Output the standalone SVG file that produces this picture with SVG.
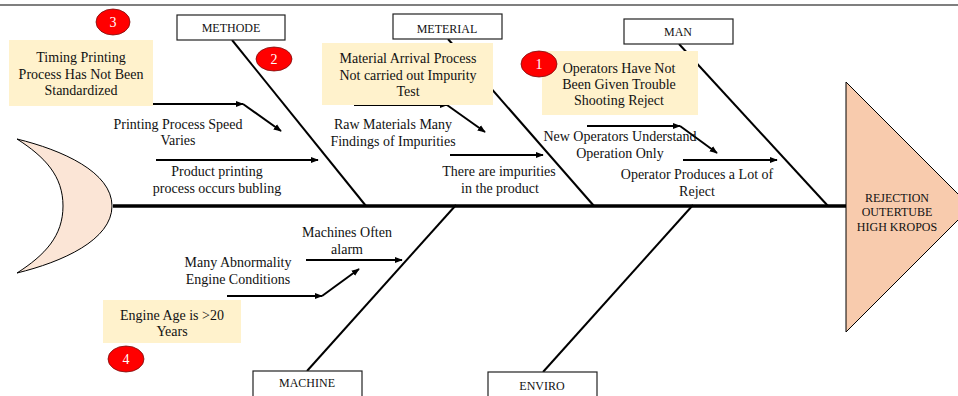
<svg xmlns="http://www.w3.org/2000/svg" width="958" height="396" viewBox="0 0 958 396">
<defs>
<marker id="ah" viewBox="0 0 10 10" refX="9" refY="5" markerWidth="4" markerHeight="4" orient="auto" markerUnits="strokeWidth">
<path d="M0,1 L10,5 L0,9 Z" fill="#000"/>
</marker>
<style>
.t{font-family:"Liberation Serif","Times New Roman",serif;font-size:14px;fill:#111;text-anchor:middle}
.bl{font-family:"Liberation Serif","Times New Roman",serif;font-size:12px;fill:#111;text-anchor:middle}
.box{fill:#fff;stroke:#222;stroke-width:1.2}
.note{fill:#FFF2CC}
.badge{fill:#FF0000;stroke:#7a1010;stroke-width:0.8}
.bt{font-family:"Liberation Serif","Times New Roman",serif;font-size:14px;fill:#fff;text-anchor:middle}
.bone{stroke:#000;stroke-width:2;fill:none}
.arr{stroke:#000;stroke-width:2;fill:none;marker-end:url(#ah)}
</style>
</defs>
<rect width="958" height="396" fill="#fff"/>
<line x1="0" y1="5" x2="958" y2="5" stroke="#000" stroke-width="1.2"/>

<g id="connectors">
<line class="bone" x1="113" y1="206" x2="847" y2="206" style="stroke-width:3.5"/>
<line class="bone" x1="232" y1="40" x2="366" y2="206"/>
<line class="bone" x1="448" y1="39" x2="594" y2="206"/>
<line class="bone" x1="679" y1="44" x2="828" y2="206"/>
<line class="bone" x1="307" y1="371" x2="456" y2="205"/>
<line class="bone" x1="543" y1="372" x2="693" y2="205"/>
<line class="arr" x1="150" y1="104" x2="243" y2="104"/>
<line class="arr" x1="243" y1="104" x2="281" y2="131"/>
<line class="arr" x1="156" y1="160" x2="318" y2="160"/>
<line class="arr" x1="354" y1="105" x2="447" y2="105"/>
<line class="arr" x1="447" y1="105" x2="485" y2="132"/>
<line class="arr" x1="450" y1="155" x2="543" y2="155"/>
<line class="arr" x1="587" y1="126" x2="680" y2="126"/>
<line class="arr" x1="680" y1="126" x2="717" y2="153"/>
<line class="arr" x1="683" y1="160" x2="777" y2="160"/>
<line class="arr" x1="306" y1="260" x2="402" y2="260"/>
<line class="arr" x1="227" y1="296" x2="322" y2="296"/>
<line class="arr" x1="322" y1="296" x2="359" y2="269"/>
</g>

<g id="tail">
<path d="M17,139 C62,150 112,172 112,206 C112,240 62,262 17,273 C45,255 63,236 63,206 C63,176 45,157 17,139 Z" fill="#FBE5D6" stroke="#000" stroke-width="1"/>
</g>

<g id="head">
<polygon points="846,82 971,207 846,332" fill="#F8CBAD" stroke="#000" stroke-width="1"/>
<text class="bl" x="897" y="202">REJECTION</text>
<text class="bl" x="897" y="216">OUTERTUBE</text>
<text class="bl" x="897" y="231">HIGH KROPOS</text>
</g>

<g id="methode">
<rect class="box" x="177" y="15" width="108" height="25"/>
<text class="bl" x="231" y="32">METHODE</text>
</g>
<g id="meterial">
<rect class="box" x="393" y="14" width="109" height="25"/>
<text class="bl" x="447" y="33">METERIAL</text>
</g>
<g id="man">
<rect class="box" x="624" y="19" width="109" height="25"/>
<text class="bl" x="678" y="36">MAN</text>
</g>
<g id="machine">
<rect class="box" x="253" y="371" width="109" height="30"/>
<text class="bl" x="307" y="387">MACHINE</text>
</g>
<g id="enviro">
<rect class="box" x="488" y="372" width="109" height="30"/>
<text class="bl" x="542" y="390">ENVIRO</text>
</g>

<g id="cause-timing">
<rect class="note" x="9" y="40" width="144" height="66"/>
<text class="t" x="81" y="62">Timing Printing</text>
<text class="t" x="81" y="79">Process Has Not Been</text>
<text class="t" x="81" y="95">Standardized</text>
</g>
<g id="badge-3">
<ellipse class="badge" cx="113" cy="22" rx="17" ry="13"/>
<text class="bt" x="113" y="27">3</text>
</g>
<g id="badge-2">
<ellipse class="badge" cx="274" cy="59" rx="18" ry="12"/>
<text class="bt" x="274" y="64">2</text>
</g>
<g id="cause-speed">
<text class="t" x="178" y="129">Printing Process Speed</text>
<text class="t" x="178" y="145">Varies</text>
</g>
<g id="cause-bubling">
<text class="t" x="217" y="176">Product printing</text>
<text class="t" x="217" y="193">process occurs bubling</text>
</g>

<g id="cause-arrival">
<rect class="note" x="322" y="43" width="171" height="62"/>
<text class="t" x="408" y="63">Material Arrival Process</text>
<text class="t" x="408" y="80">Not carried out Impurity</text>
<text class="t" x="408" y="96">Test</text>
</g>
<g id="cause-raw">
<text class="t" x="393" y="129">Raw Materials Many</text>
<text class="t" x="393" y="146">Findings of Impurities</text>
</g>
<g id="cause-impurities">
<text class="t" x="499" y="176">There are impurities</text>
<text class="t" x="500" y="193">in the product</text>
</g>

<g id="cause-operators">
<rect class="note" x="542" y="51" width="156" height="64"/>
<text class="t" x="619" y="73">Operators Have Not</text>
<text class="t" x="619" y="89">Been Given Trouble</text>
<text class="t" x="619" y="105">Shooting Reject</text>
</g>
<g id="badge-1">
<ellipse class="badge" cx="539" cy="64" rx="18" ry="13"/>
<text class="bt" x="539" y="69">1</text>
</g>
<g id="cause-new-operators">
<text class="t" x="620" y="141">New Operators Understand</text>
<text class="t" x="620" y="158">Operation Only</text>
</g>
<g id="cause-reject">
<text class="t" x="697" y="179">Operator Produces a Lot of</text>
<text class="t" x="697" y="196">Reject</text>
</g>

<g id="cause-alarm">
<text class="t" x="347" y="237">Machines Often</text>
<text class="t" x="347" y="254">alarm</text>
</g>
<g id="cause-abnormality">
<text class="t" x="238" y="267">Many Abnormality</text>
<text class="t" x="238" y="284">Engine Conditions</text>
</g>
<g id="cause-engine-age">
<rect class="note" x="103" y="300" width="138" height="43"/>
<text class="t" x="172" y="320">Engine Age is &gt;20</text>
<text class="t" x="172" y="336">Years</text>
</g>
<g id="badge-4">
<ellipse class="badge" cx="126" cy="359" rx="18" ry="13"/>
<text class="bt" x="126" y="364">4</text>
</g>
</svg>
